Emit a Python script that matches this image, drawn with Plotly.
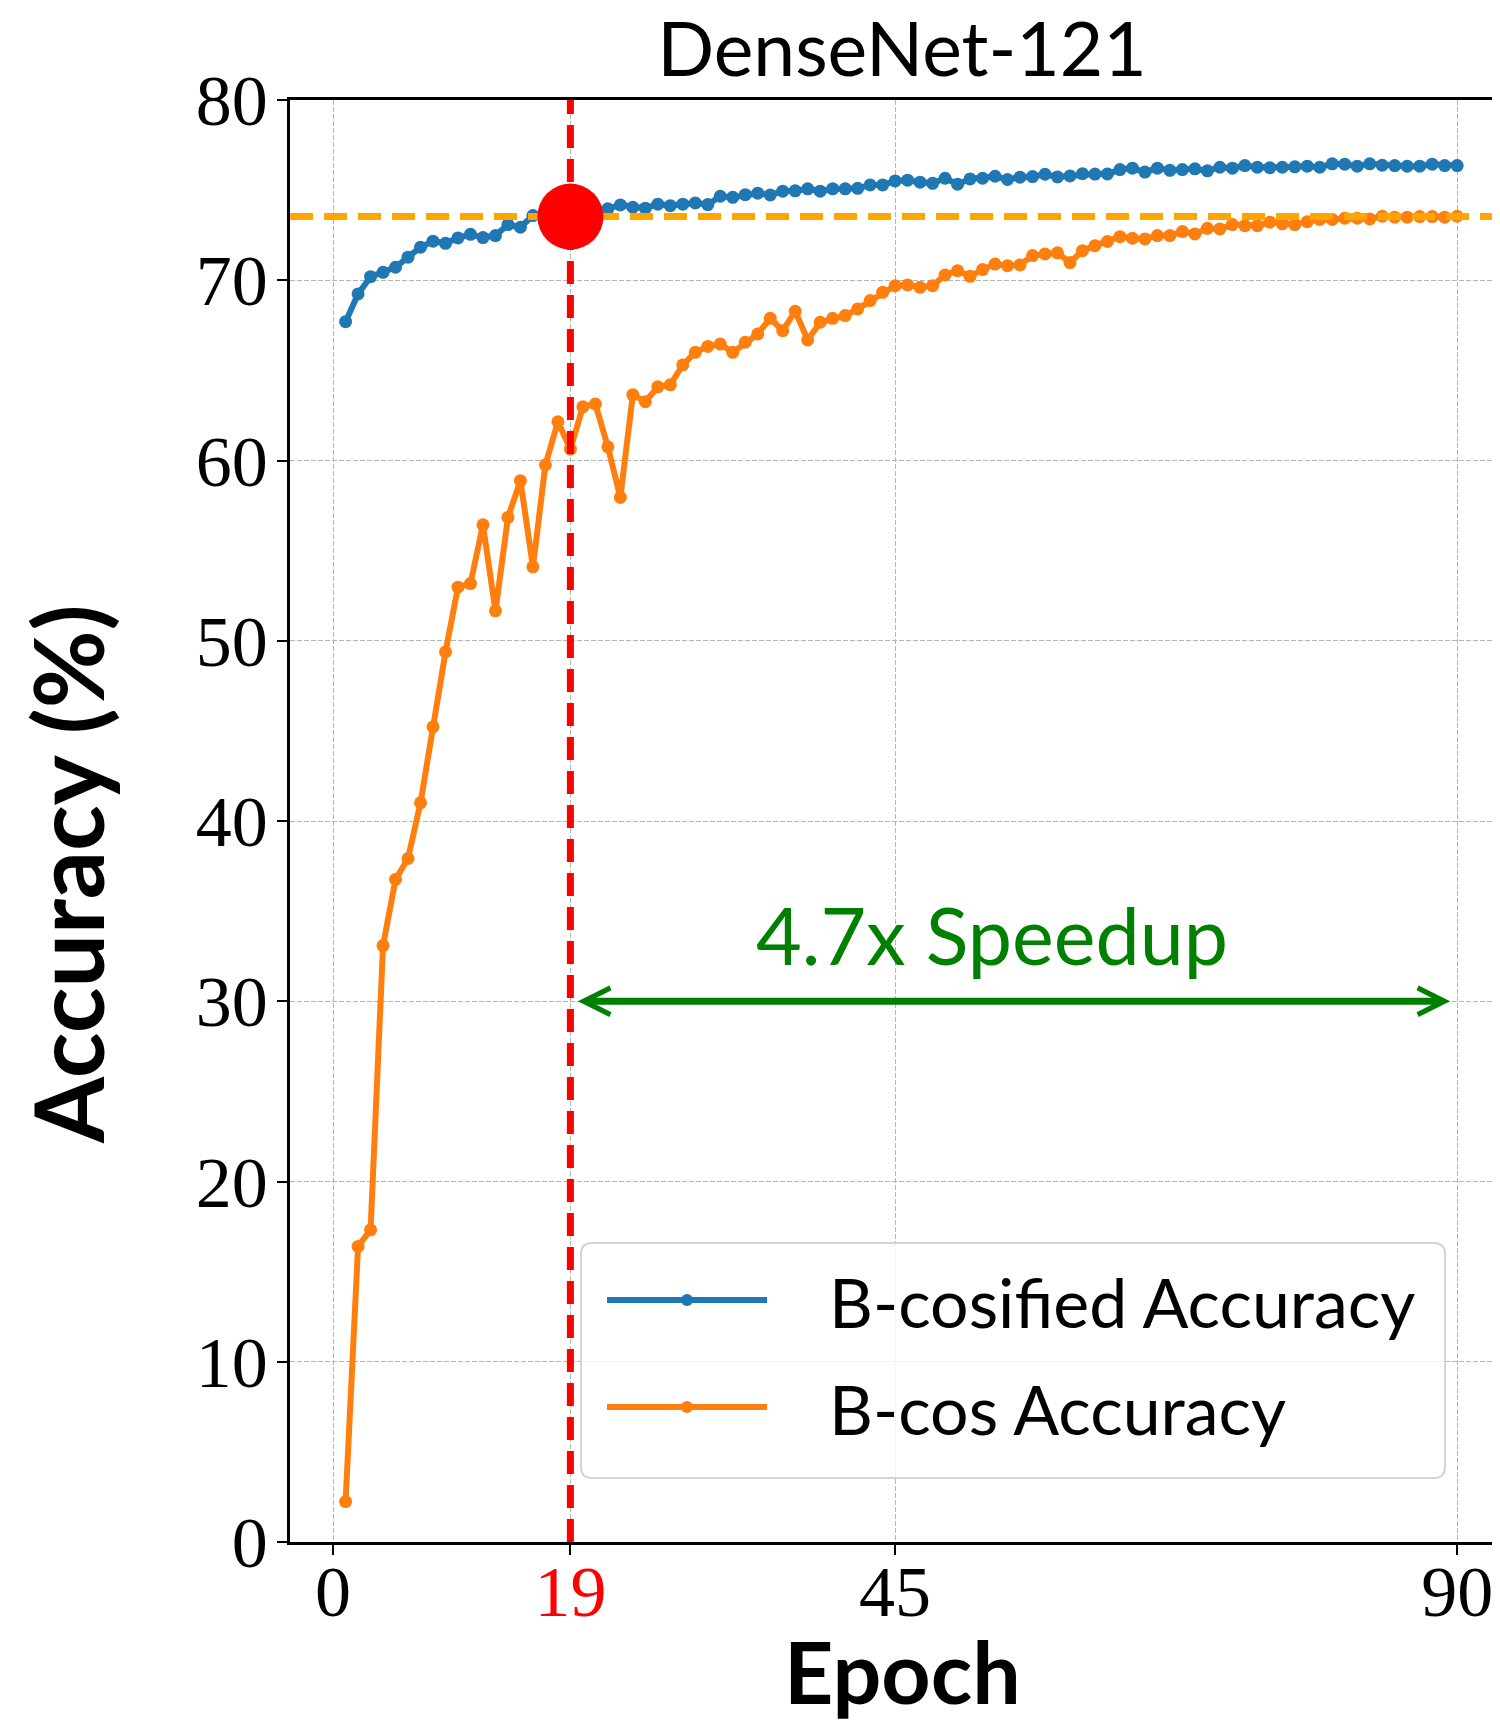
import plotly.graph_objects as go

# ---------------- data ----------------
epochs = list(range(1, 91))
bcosified_acc = [
    67.70, 69.24, 70.20, 70.44, 70.72, 71.28, 71.83, 72.17, 72.05, 72.35,
    72.55, 72.37, 72.48, 73.09, 72.94, 73.59, 73.70, 73.75, 73.85, 73.90,
    73.95, 73.96, 74.18, 74.05, 74.00, 74.22, 74.14, 74.22, 74.29, 74.20,
    74.66, 74.60, 74.75, 74.83, 74.73, 74.94, 74.96, 75.07, 74.94, 75.07,
    75.07, 75.10, 75.29, 75.29, 75.51, 75.55, 75.44, 75.38, 75.66, 75.33,
    75.62, 75.66, 75.77, 75.59, 75.72, 75.75, 75.88, 75.73, 75.79, 75.91,
    75.89, 75.90, 76.14, 76.22, 76.00, 76.22, 76.10, 76.14, 76.18, 76.07,
    76.27, 76.22, 76.36, 76.27, 76.24, 76.27, 76.29, 76.33, 76.27, 76.46,
    76.44, 76.33, 76.46, 76.38, 76.36, 76.33, 76.33, 76.44, 76.36, 76.36,
]
bcos_acc = [
    2.24, 16.40, 17.32, 33.09, 36.76, 37.92, 41.01, 45.22, 49.38, 52.97,
    53.17, 56.43, 51.66, 56.84, 58.88, 54.10, 59.76, 62.15, 60.63, 62.98,
    63.13, 60.76, 57.95, 63.65, 63.26, 64.09, 64.20, 65.30, 66.00, 66.33,
    66.46, 66.00, 66.56, 67.02, 67.89, 67.20, 68.28, 66.69, 67.67, 67.89,
    68.04, 68.41, 68.87, 69.33, 69.70, 69.74, 69.61, 69.70, 70.29, 70.53,
    70.22, 70.59, 70.90, 70.81, 70.85, 71.37, 71.46, 71.52, 70.98, 71.64,
    71.92, 72.15, 72.42, 72.33, 72.29, 72.48, 72.48, 72.70, 72.57, 72.88,
    72.85, 73.09, 73.03, 73.03, 73.22, 73.13, 73.09, 73.25, 73.37, 73.37,
    73.44, 73.44, 73.40, 73.55, 73.50, 73.50, 73.53, 73.53, 73.50, 73.55,
]
bcos_final_acc = 73.53          # horizontal reference line
match_epoch = 19                # epoch where B-cosified reaches it
total_epochs = 90
speedup_text = "4.7x Speedup"
arrow_level = 30

x_tickvals = [0, 19, 45, 90]
x_ticktext = ["0", "<span style='color:red'>19</span>", "45", "90"]
y_tickvals = [0, 10, 20, 30, 40, 50, 60, 70, 80]
y_ticktext = [str(v) for v in y_tickvals]

series_names = ["B-cosified Accuracy", "B-cos Accuracy"]
series_colors = ["#1f77b4", "#ff7f0e"]

# ---------------- layout geometry ----------------
# the page body adds an 8px offset; the figure is sized to fill the rest
BODY = 8
W, H = 1500 - BODY, 1724 - BODY
ML, MR, MT, MB = 290 - BODY, 0, 100 - BODY, H - (1542 - BODY)
X_RANGE = [-3.45, 93.43]
Y_RANGE = [0, 80]
PW = W - ML - MR
PH = H - MT - MB


def px_x(px):
    """screen x -> paper x"""
    return (px - BODY - ML) / PW


def px_y(py):
    """screen y -> paper y"""
    return (H - MB - (py - BODY)) / PH


SANS = "Lato"
SERIF = "Liberation Serif"
DASH = "23px,11px"

fig = go.Figure()

for name, ys, col in zip(series_names, [bcosified_acc, bcos_acc], series_colors):
    fig.add_trace(go.Scatter(
        x=epochs, y=ys, name=name, mode="lines+markers",
        line=dict(color=col, width=6),
        marker=dict(color=col, size=13),
        showlegend=False,
    ))

# horizontal dashed line at final B-cos accuracy
fig.add_trace(go.Scatter(
    x=X_RANGE, y=[bcos_final_acc, bcos_final_acc], mode="lines",
    line=dict(color="#FFA500", width=7, dash=DASH),
    showlegend=False, hoverinfo="skip",
))
# vertical dashed line at matching epoch
fig.add_trace(go.Scatter(
    x=[match_epoch, match_epoch], y=Y_RANGE, mode="lines",
    line=dict(color="red", width=7, dash=DASH),
    showlegend=False, hoverinfo="skip",
))
# big red point
fig.add_trace(go.Scatter(
    x=[match_epoch], y=[bcos_final_acc], mode="markers",
    marker=dict(color="red", size=66),
    showlegend=False, hoverinfo="skip", cliponaxis=False,
))

annotations = []
# double-headed speedup arrow
annotations.append(dict(
    x=total_epochs, y=arrow_level, ax=match_epoch, ay=arrow_level,
    xref="x", yref="y", axref="x", ayref="y",
    text="", showarrow=True, arrowside="end+start",
    arrowhead=5, startarrowhead=5, arrowsize=0.75, startarrowsize=0.75,
    arrowwidth=7, arrowcolor="green", standoff=7, startstandoff=6,
))
annotations.append(dict(
    x=52.74, y=33.7, xref="x", yref="y", text=speedup_text,
    showarrow=False, xanchor="center", yanchor="middle",
    font=dict(family=SANS, size=79, color="green"),
))
# axis titles
annotations.append(dict(
    x=px_x(902), y=px_y(1670), xref="paper", yref="paper",
    text="<b>Epoch</b>", showarrow=False, xanchor="center", yanchor="middle",
    font=dict(family=SANS, size=86, color="black"),
))
annotations.append(dict(
    x=px_x(BODY), y=px_y(874), xref="paper", yref="paper",
    text="<b>Accuracy (%)</b>", showarrow=False, textangle=-90,
    xanchor="left", yanchor="middle",
    font=dict(family=SANS, size=95, color="black"),
))

# ---------------- custom legend ----------------
shapes = []
bx0, bx1, by0, by1 = px_x(581), px_x(1445), px_y(1243), px_y(1478)
rx, ry = 11 / PW, 11 / PH
path = (
    f"M{bx0 + rx},{by0} L{bx1 - rx},{by0} Q{bx1},{by0} {bx1},{by0 - ry} "
    f"L{bx1},{by1 + ry} Q{bx1},{by1} {bx1 - rx},{by1} "
    f"L{bx0 + rx},{by1} Q{bx0},{by1} {bx0},{by1 + ry} "
    f"L{bx0},{by0 - ry} Q{bx0},{by0} {bx0 + rx},{by0} Z"
)
shapes.append(dict(type="path", path=path, xref="paper", yref="paper",
                   line=dict(color="#d4d4d4", width=2),
                   fillcolor="rgba(255,255,255,0.8)", layer="above"))
row_y = [1300, 1407]
for name, col, ry_px in zip(series_names, series_colors, row_y):
    shapes.append(dict(type="line", xref="paper", yref="paper",
                       x0=px_x(607), x1=px_x(767), y0=px_y(ry_px), y1=px_y(ry_px),
                       line=dict(color=col, width=6), layer="above"))
    shapes.append(dict(type="circle", xref="paper", yref="paper",
                       x0=px_x(681), x1=px_x(693), y0=px_y(ry_px + 6), y1=px_y(ry_px - 6),
                       line=dict(color=col, width=0), fillcolor=col, layer="above"))
    annotations.append(dict(
        x=px_x(827), y=px_y(ry_px + 1), xref="paper", yref="paper",
        text=name, showarrow=False, xanchor="left", yanchor="middle",
        font=dict(family=SANS, size=68, color="black"),
    ))

fig.update_layout(
    width=W, height=H,
    margin=dict(l=ML, r=MR, t=MT, b=MB, autoexpand=False),
    paper_bgcolor="white", plot_bgcolor="white",
    title=dict(text="DenseNet-121", x=(902 - BODY) / W, xref="container",
               xanchor="center", y=1 - (50 - BODY) / H, yref="container",
               yanchor="middle",
               font=dict(family=SANS, size=75, color="black")),
    showlegend=False,
    annotations=annotations,
    shapes=shapes,
)

axis_common = dict(
    showline=True, linecolor="black", linewidth=2.5,
    ticks="outside", ticklen=10, tickwidth=2, tickcolor="black",
    showgrid=True, gridcolor="#b5b5b5", gridwidth=1.3, griddash="5px,2px",
    zeroline=False, tickfont=dict(family=SERIF, size=72, color="black"),
)
fig.update_xaxes(range=X_RANGE, tickmode="array", tickvals=x_tickvals,
                 ticktext=x_ticktext, mirror=True, ticklabelstandoff=-25,
                 **axis_common)
fig.update_yaxes(range=Y_RANGE, tickmode="array", tickvals=y_tickvals,
                 ticktext=y_ticktext, mirror=False, ticklabelstandoff=-5,
                 **axis_common)

fig.write_html("out.html")
